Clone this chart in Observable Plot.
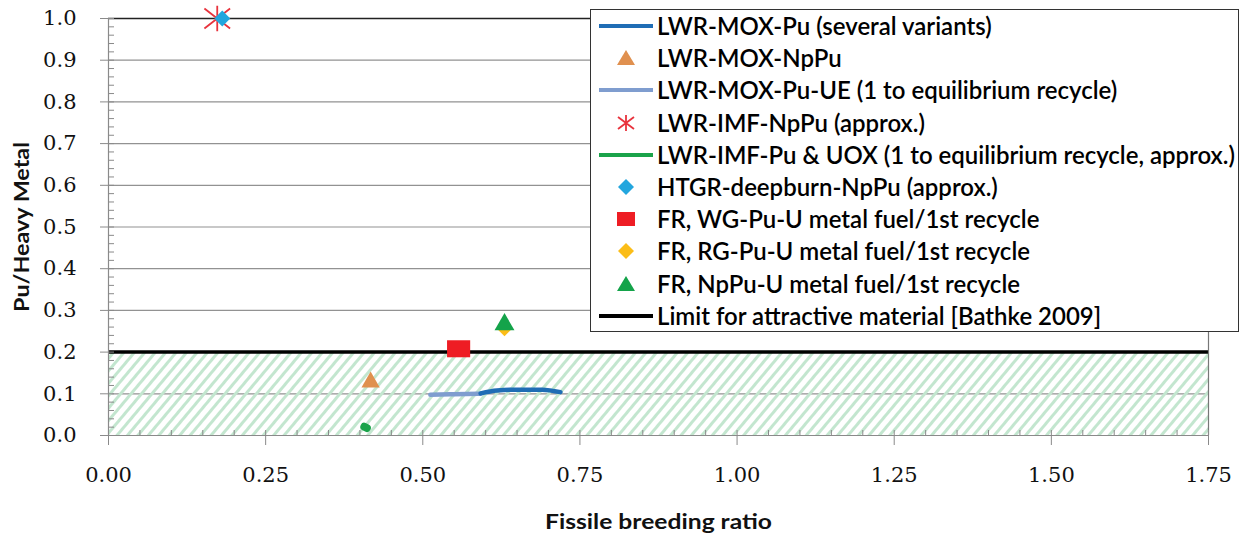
<!DOCTYPE html>
<html><head><meta charset="utf-8">
<script src="https://cdn.jsdelivr.net/npm/d3@7"></script>
<script src="https://cdn.jsdelivr.net/npm/@observablehq/plot@0.6"></script>
<style>
body{margin:0;background:#fff;}
#wrap{position:relative;width:1242px;height:533px;overflow:hidden;}
#legend{position:absolute;left:590px;top:9px;width:649px;height:323px;border:1.5px solid #333;background:#fff;font-family:Lato, "Open Sans", sans-serif;box-sizing:border-box;padding-top:0px;}
.row{height:32.2px;display:flex;align-items:center;}
.sym{width:66px;height:32px;flex:none;display:block}
.txt{white-space:nowrap;font-size:24px;color:#000;font-weight:600;display:inline-block;transform-origin:0 50%;line-height:32px}
</style></head>
<body><div id="wrap"></div>
<script>
// ---- data ----
const xTicks = [0, 0.25, 0.5, 0.75, 1.0, 1.25, 1.5, 1.75];
const yTicks = [0, 0.1, 0.2, 0.3, 0.4, 0.5, 0.6, 0.7, 0.8, 0.9, 1.0];
const xMinor = d3.range(0, 1.7501, 0.05);
const yMinor = d3.range(0, 1.0001, 0.02);

const moxPuX = [0.592, 0.618, 0.65, 0.69, 0.719];
const moxPuY = [0.101, 0.108, 0.110, 0.110, 0.104];
const moxUeX = [0.512, 0.55, 0.592];
const moxUeY = [0.098, 0.099, 0.100];
const imfPuUoxX = [0.407, 0.411];
const imfPuUoxY = [0.021, 0.018];
const moxNpPuX = [0.417], moxNpPuY = [0.128];
const imfNpPuX = [0.173], imfNpPuY = [1.0];
const htgrX = [0.181], htgrY = [1.0];
const frWgX = [0.557], frWgY = [0.208];
const frRgX = [0.630], frRgY = [0.257];
const frNpX = [0.630], frNpY = [0.266];
const limitValue = 0.2;
const limitX = [0, 1.75];

const seriesNames = [
  "LWR-MOX-Pu (several variants)",
  "LWR-MOX-NpPu",
  "LWR-MOX-Pu-UE (1 to equilibrium recycle)",
  "LWR-IMF-NpPu (approx.)",
  "LWR-IMF-Pu & UOX (1 to equilibrium recycle, approx.)",
  "HTGR-deepburn-NpPu (approx.)",
  "FR, WG-Pu-U metal fuel/1st recycle",
  "FR, RG-Pu-U metal fuel/1st recycle",
  "FR, NpPu-U metal fuel/1st recycle",
  "Limit for attractive material [Bathke 2009]"
];
const seriesColors = ["#1f6db5","#e0904f","#7f9dcf","#e8333d","#1aa34a","#23a6de","#ee1d24","#fbbd18","#14a34a","#000000"];
const seriesKinds = ["line","triangle","line","asterisk","line","diamond","rect","diamond","triangle","line"];

const pts = (xs, ys) => xs.map((x, i) => ({x, y: ys[i]}));

// custom marker shapes
const rectSymbol = {draw(ctx, size){ const s = Math.sqrt(size); ctx.rect(-s*0.68, -s*0.5, s*1.36, s); }};
const diamondSymbol = {draw(ctx, size){ const s = Math.sqrt(size)/2; ctx.moveTo(0,-s); ctx.lineTo(s,0); ctx.lineTo(0,s); ctx.lineTo(-s,0); ctx.closePath(); }};
const starSymbol = {draw(ctx, size){ const r = Math.sqrt(size)/2;
  ctx.moveTo(0,-r); ctx.lineTo(0,r);
  ctx.moveTo(-r,-r*0.78); ctx.lineTo(r,r*0.78);
  ctx.moveTo(-r,r*0.78); ctx.lineTo(r,-r*0.78); }};

const serif = "'DejaVu Serif', serif";
const sans = "Lato, 'Open Sans', sans-serif";

const chart = Plot.plot({
  width: 1242, height: 533,
  marginLeft: 108, marginRight: 34, marginTop: 18, marginBottom: 98,
  x: {domain: [0, 1.75]},
  y: {domain: [0, 1]},
  style: {background: "#fff"},
  marks: [
    Plot.ruleY(yTicks.filter(v => v > 0 && v < 1), {stroke: "#929292", strokeWidth: 1.2}),
    Plot.rect([limitValue], {x1: limitX[0], x2: limitX[1], y1: 0, y2: d => d, fill: "url(#hatch)"}),
    Plot.ruleY([limitValue], {stroke: "#000", strokeWidth: 3.5}),
    Plot.ruleY([1], {stroke: "#222", strokeWidth: 1.3}),
    Plot.ruleX([1.75], {stroke: "#777", strokeWidth: 1.2}),
    Plot.ruleX([0], {stroke: "#8a8a8a", strokeWidth: 1.2}),
    Plot.ruleY([0], {stroke: "#8a8a8a", strokeWidth: 1.2}),
    // series
    Plot.line(pts(moxUeX, moxUeY), {x: "x", y: "y", stroke: seriesColors[2], strokeWidth: 4.5, strokeLinecap: "round", curve: "monotone-x"}),
    Plot.line(pts(moxPuX, moxPuY), {x: "x", y: "y", stroke: seriesColors[0], strokeWidth: 4.5, strokeLinecap: "round", curve: "monotone-x"}),
    Plot.dot(pts(moxNpPuX, moxNpPuY), {x: "x", y: "y", symbol: "triangle", r: 6.8, fill: seriesColors[1]}),
    Plot.dot(pts(imfNpPuX, imfNpPuY), {x: "x", y: "y", symbol: starSymbol, r: 14.5, fill: "none", stroke: seriesColors[3], strokeWidth: 1.8}),
    Plot.line(pts(imfPuUoxX, imfPuUoxY), {x: "x", y: "y", stroke: seriesColors[4], strokeWidth: 8, strokeLinecap: "round"}),
    Plot.dot(pts(htgrX, htgrY), {x: "x", y: "y", symbol: diamondSymbol, r: 9, fill: seriesColors[5]}),
    Plot.dot(pts(frWgX, frWgY), {x: "x", y: "y", symbol: rectSymbol, r: 9.6, fill: seriesColors[6]}),
    Plot.dot(pts(frRgX, frRgY), {x: "x", y: "y", symbol: diamondSymbol, r: 9, fill: seriesColors[7]}),
    Plot.dot(pts(frNpX, frNpY), {x: "x", y: "y", symbol: "triangle", r: 7.4, fill: seriesColors[8]}),
    // axes
    Plot.axisY({ticks: yTicks, tickFormat: d => d.toFixed(1), tickSize: 8, tickPadding: 24, stroke: "#8a8a8a", fill: "#111", fontSize: 21, fontFamily: serif, label: null}),
    Plot.axisY({ticks: yMinor, tickSize: -6, stroke: "#8a8a8a", fill: "none", label: null}),
    Plot.axisX({ticks: xTicks, tickFormat: d => d.toFixed(2), tickSize: 10, tickPadding: 22, stroke: "#8a8a8a", fill: "#111", fontSize: 21, fontFamily: serif, label: null}),
    Plot.axisX({ticks: xMinor, tickSize: -5, stroke: "#8a8a8a", fill: "none", label: null}),
    Plot.text(["Pu/Heavy Metal"], {frameAnchor: "left", textAnchor: "middle", dx: -86, rotate: -90, fontSize: 20, fontWeight: "bold", fontFamily: sans, fill: "#111", className: "ytitle"}),
    Plot.text(["Fissile breeding ratio"], {frameAnchor: "bottom", dy: 93, fontSize: 20, fontWeight: "bold", fontFamily: sans, fill: "#111", className: "xtitle"})
  ]
});

// hatch pattern
const defs = d3.select(chart).insert("defs", ":first-child");
const pat = defs.append("pattern").attr("id", "hatch").attr("patternUnits", "userSpaceOnUse")
  .attr("width", 8).attr("height", 8).attr("patternTransform", "rotate(40)");
pat.append("rect").attr("width", 3).attr("height", 8).attr("fill", "#c3e6cf");

// stretch axis titles to the reference's lengths
d3.select(chart).selectAll(".ytitle text").attr("textLength", 170).attr("lengthAdjust", "spacingAndGlyphs");
d3.select(chart).selectAll(".xtitle text").attr("textLength", 227).attr("lengthAdjust", "spacingAndGlyphs");

const wrap = document.getElementById("wrap");
wrap.appendChild(chart);

// legend
const legend = document.createElement("div");
legend.id = "legend";
seriesNames.forEach((name, i) => {
  const row = document.createElement("div");
  row.className = "row";
  const svg = d3.create("svg").attr("class", "sym").attr("width", 66).attr("height", 32);
  const c = seriesColors[i], k = seriesKinds[i];
  if (k === "line") svg.append("line").attr("x1", 8).attr("x2", 62).attr("y1", 16).attr("y2", 16).attr("stroke", c).attr("stroke-width", 4);
  else if (k === "triangle") svg.append("path").attr("d", "M35,8 L44,23 L26,23 Z").attr("fill", c);
  else if (k === "diamond") svg.append("path").attr("d", "M35,8 L43,16 L35,24 L27,16 Z").attr("fill", c);
  else if (k === "rect") svg.append("rect").attr("x", 26).attr("y", 9).attr("width", 18).attr("height", 14).attr("fill", c);
  else if (k === "asterisk") svg.append("path").attr("d", "M35,8 L35,24 M27,10 L43,22 M27,22 L43,10").attr("stroke", c).attr("stroke-width", 1.8).attr("fill", "none");
  row.appendChild(svg.node());
  const t = document.createElement("span");
  t.className = "txt";
  t.textContent = name;
  row.appendChild(t);
  legend.appendChild(row);
});
wrap.appendChild(legend);
// fit longest legend line to the reference width by horizontal scaling
const spans = legend.querySelectorAll(".txt");
const w = spans[4].getBoundingClientRect().width;
const k = 578 / w;
spans.forEach(s => s.style.transform = `scaleX(${k})`);
</script>
</body></html>
